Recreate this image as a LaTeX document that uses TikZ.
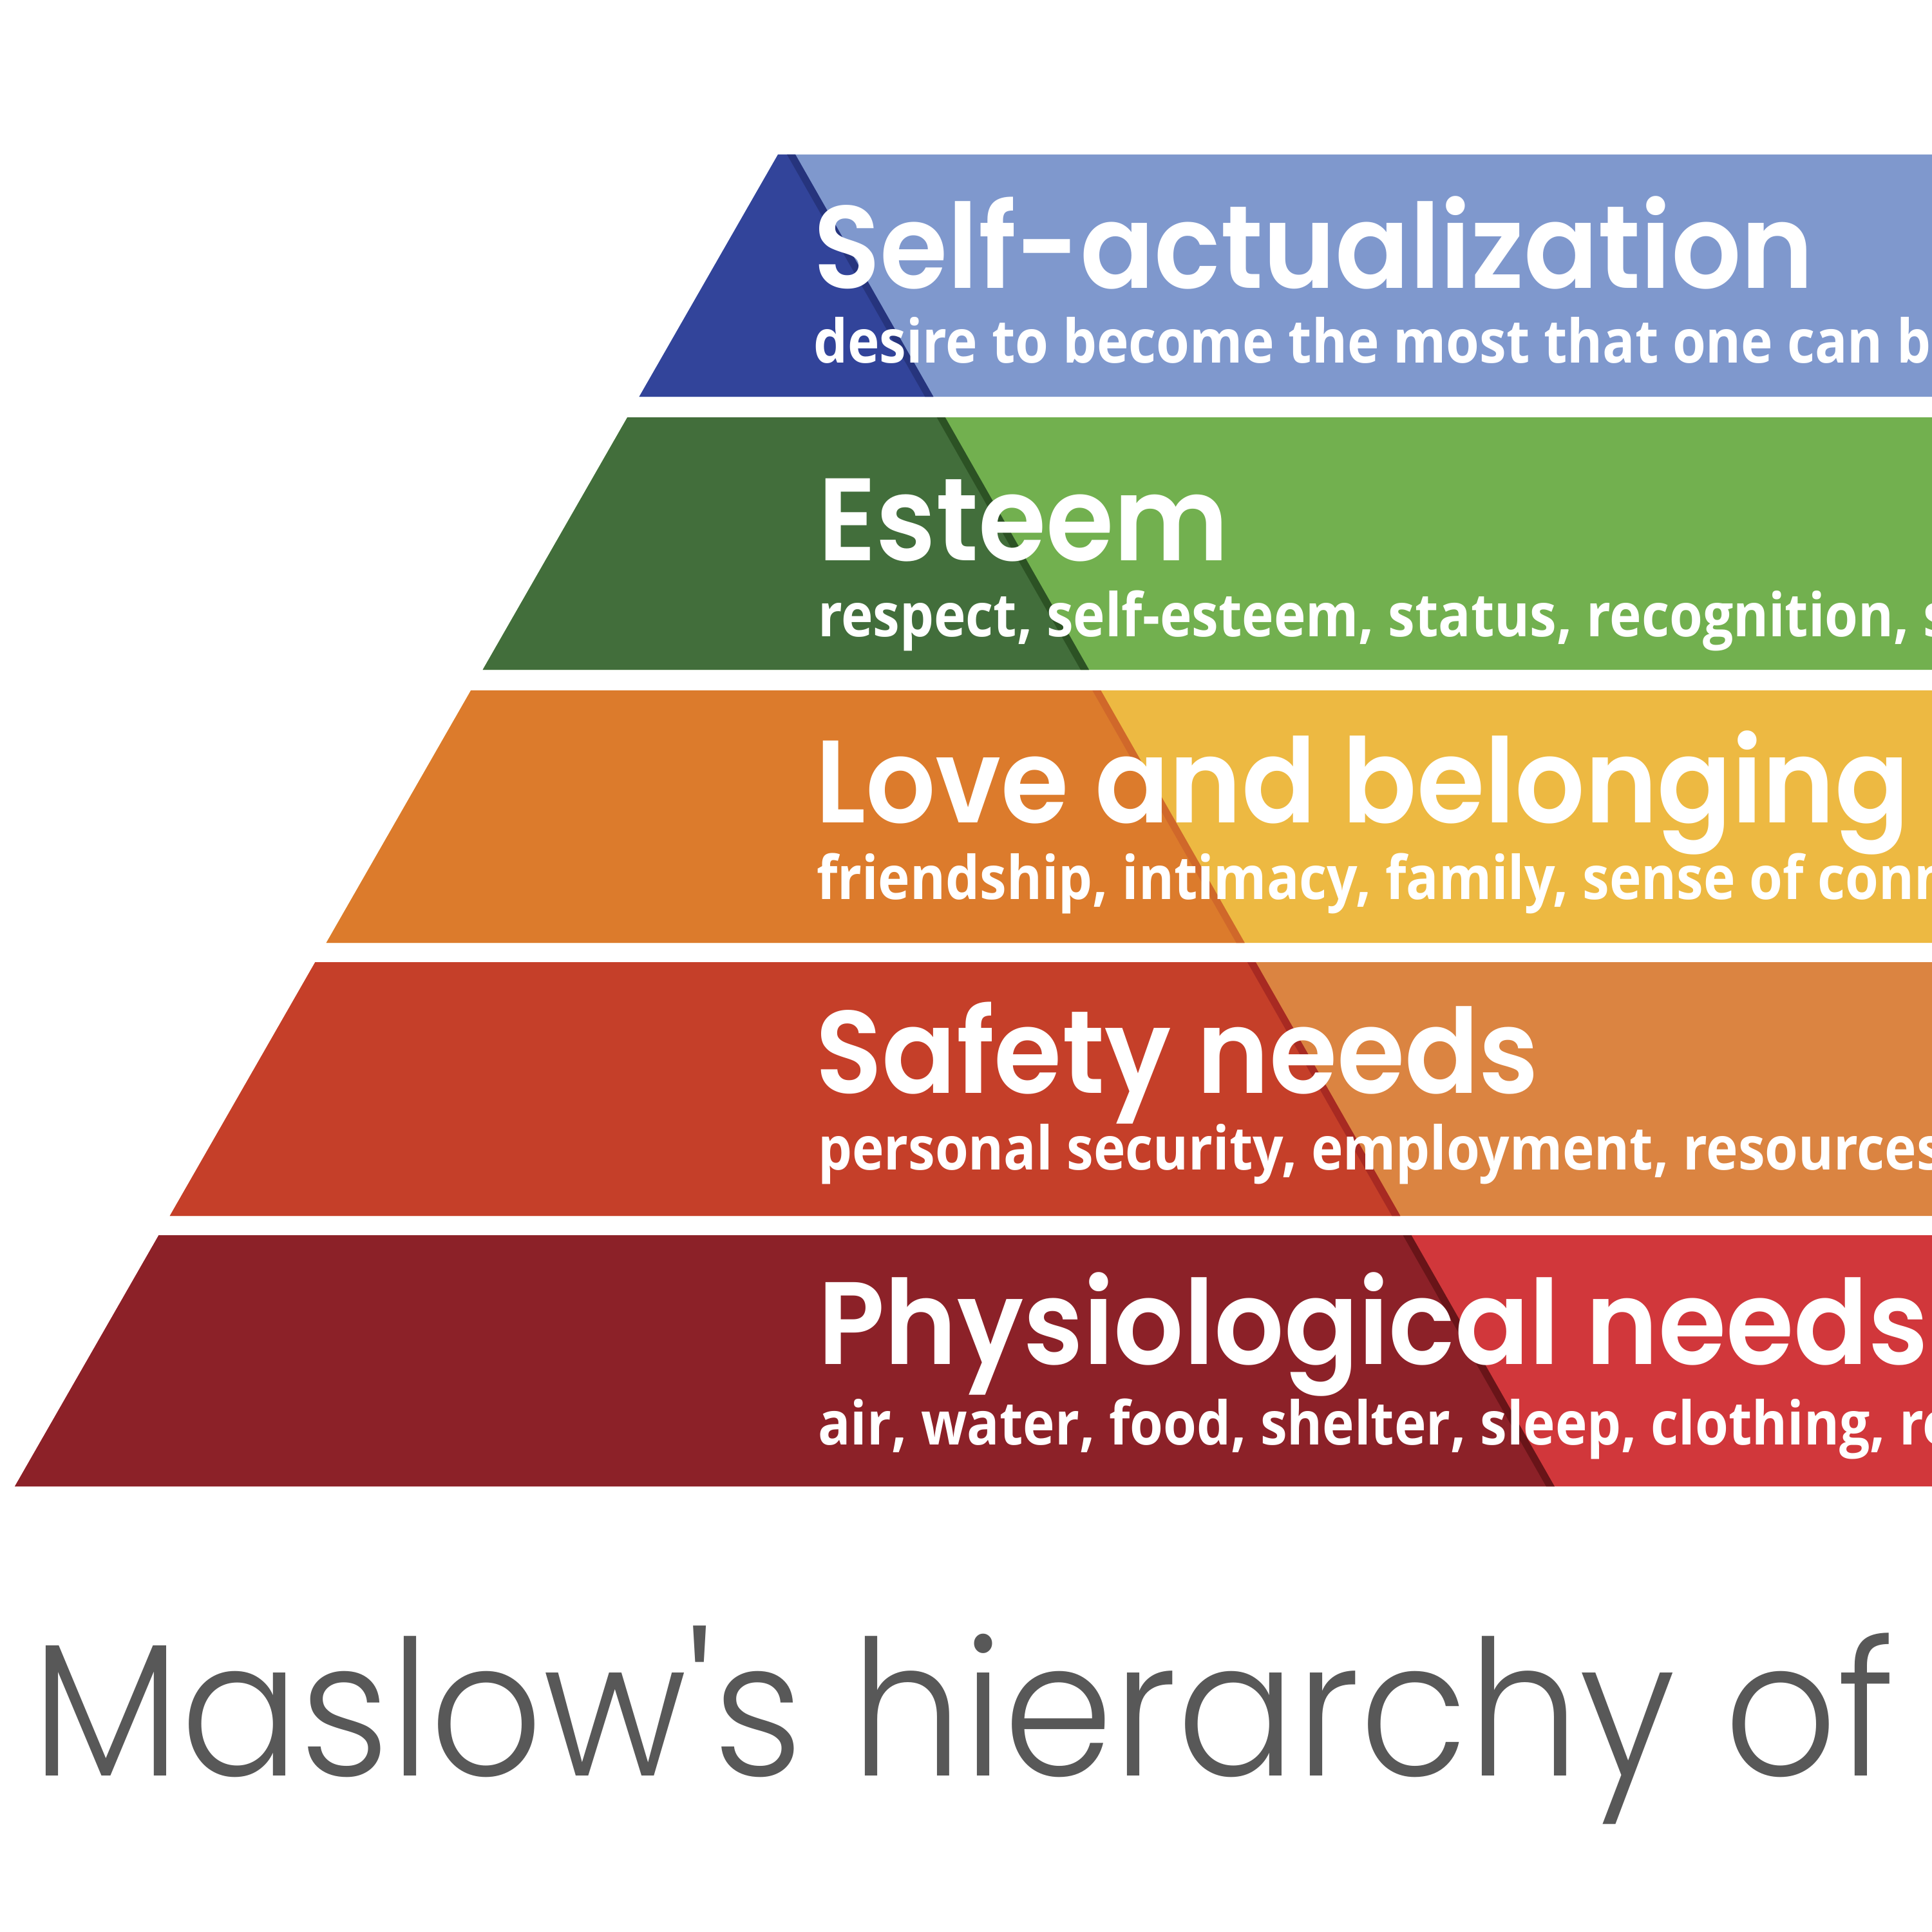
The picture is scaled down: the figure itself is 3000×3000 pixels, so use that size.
\documentclass[tikz,border=0pt]{standalone}
\usepackage{fontspec}
\usepackage{graphicx}
\newfontfamily\titlef{Poppins SemiBold}
\newfontfamily\subf{Open Sans}
\newfontfamily\lightf{Poppins Light}
\definecolor{dark1}{RGB}{50,68,154}
\definecolor{light1}{RGB}{127,152,205}
\definecolor{shade1}{RGB}{38,52,125}
\definecolor{dark2}{RGB}{66,110,59}
\definecolor{light2}{RGB}{114,176,79}
\definecolor{shade2}{RGB}{44,82,36}
\definecolor{dark3}{RGB}{220,123,44}
\definecolor{light3}{RGB}{237,185,66}
\definecolor{shade3}{RGB}{208,104,42}
\definecolor{dark4}{RGB}{197,63,41}
\definecolor{light4}{RGB}{219,132,65}
\definecolor{shade4}{RGB}{168,42,34}
\definecolor{dark5}{RGB}{140,33,40}
\definecolor{light5}{RGB}{209,55,59}
\definecolor{shade5}{RGB}{105,20,24}
\definecolor{capgray}{RGB}{88,88,88}
\newcommand{\tsx}{0.935}
\newcommand{\ssx}{0.895}
\newcommand{\lsx}{0.935}
\newcommand{\ttltext}[1]{\scalebox{\tsx}[1]{\titlef\fontsize{51.8}{60}\selectfont #1}}
\newcommand{\subtext}[1]{\scalebox{\ssx}[1]{\subf\bfseries\fontsize{26.6}{32}\selectfont #1}}
\begin{document}
\begin{tikzpicture}[x=0.01cm,y=-0.01cm,
  lbl/.style={inner sep=0pt,outer sep=0pt,text=white,anchor=base west},
  caption/.style={inner sep=0pt,outer sep=0pt,text=capgray,anchor=base west}]
\useasboundingbox (0,0) rectangle (3000,3000);
\fill[white] (0,0) rectangle (3000,3000);
\clip (0,0) rectangle (3000,3000);
\foreach \ya/\yb/\c in {240/616/1, 648/1040/2, 1072/1464/3, 1494/1888/4, 1918/2308/5}{
  \pgfmathsetmacro\xla{1208-0.573*(\ya-240)}
  \pgfmathsetmacro\xlb{1208-0.573*(\yb-240)}
  \pgfmathsetmacro\xda{1235+0.570*(\ya-240)}
  \pgfmathsetmacro\xdb{1235+0.570*(\yb-240)}
  \fill[light\c] (\xla,\ya) -- (3100,\ya) -- (3100,\yb) -- (\xlb,\yb) -- cycle;
  \fill[dark\c] (\xla,\ya) -- (\xda,\ya) -- (\xdb,\yb) -- (\xlb,\yb) -- cycle;
  \fill[shade\c] (\xda-13,\ya) -- (\xda,\ya) -- (\xdb,\yb) -- (\xdb-13,\yb) -- cycle;
}
\node[lbl] (t1) at (1263,447) {\ttltext{Self-actualization}};
\node[lbl] (s1) at (1263,563) {\subtext{desire to become the most that one can be}};
\node[lbl] (t2) at (1270,870) {\ttltext{Esteem}};
\node[lbl] (s2) at (1270,988) {\subtext{respect, self-esteem, status, recognition, strength, freedom}};
\node[lbl] (t3) at (1266,1277) {\ttltext{Love and belonging}};
\node[lbl] (s3) at (1268,1396) {\subtext{friendship, intimacy, family, sense of connection}};
\node[lbl] (t4) at (1266,1697) {\ttltext{Safety needs}};
\node[lbl] (s4) at (1270,1816) {\subtext{personal security, employment, resources, health, property}};
\node[lbl] (t5) at (1270,2118) {\ttltext{Physiological needs}};
\node[lbl] (s5) at (1270,2243) {\subtext{air, water, food, shelter, sleep, clothing, reproduction}};
\node[caption] (cap) at (50,2757) {\scalebox{\lsx}[1]{\lightf\fontsize{83.3}{96}\selectfont Maslow\textquotesingle s hierarchy of needs}};
\end{tikzpicture}
\end{document}
